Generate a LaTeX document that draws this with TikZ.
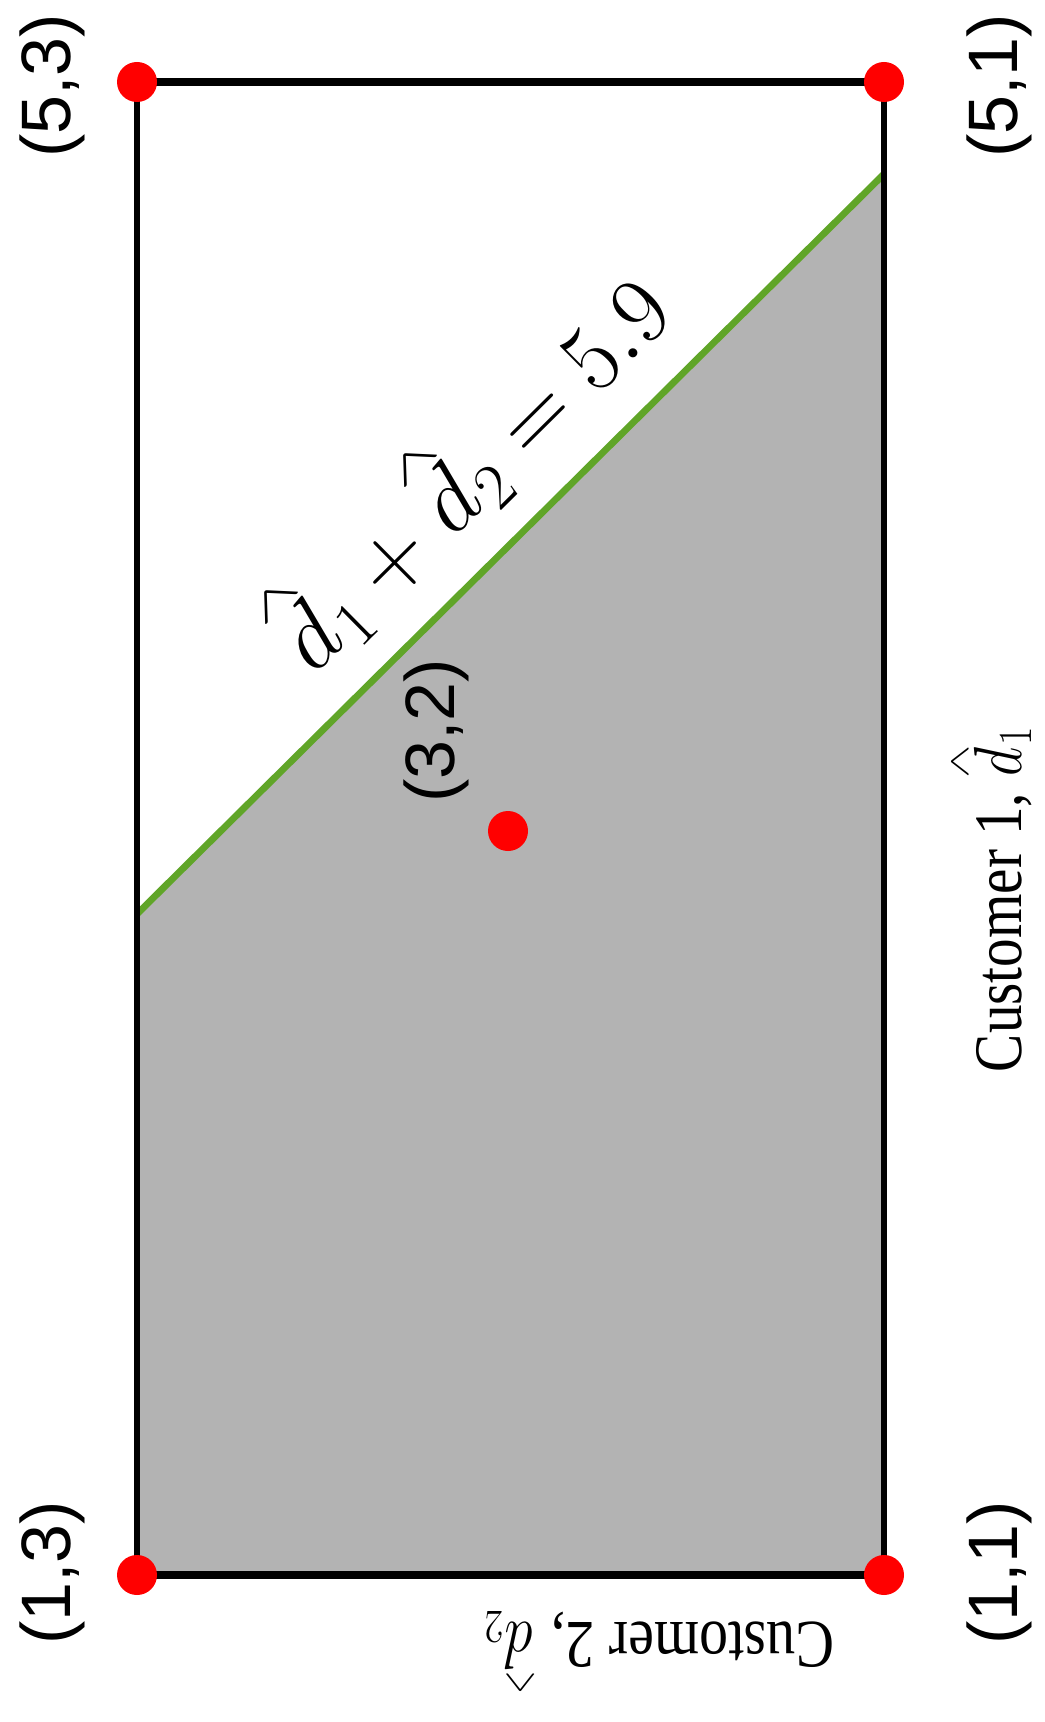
\RequirePackage{fix-cm}
\documentclass[tikz,border=0pt]{standalone}
\usepackage{amsmath}
\usepackage[no-math]{fontspec}
\newfontfamily\sansf{Liberation Sans}
\newfontfamily\seriff{Liberation Serif}
\newcommand\hatd[1]{\overset{\raisebox{-1.45ex}{\scalebox{1.25}[0.6]{$\scriptstyle\wedge$}}}{d}_{#1}}
\definecolor{plotgray}{RGB}{179,179,179}
\definecolor{linegreen}{RGB}{96,165,40}
\definecolor{dotred}{RGB}{255,0,0}
\tikzset{
  reddot/.style={circle, fill=dotred, inner sep=0pt, minimum size=20pt},
  coordlab/.style={font=\sansf\fontsize{35}{42}\selectfont, inner sep=0pt, rotate=90},
  axislab/.style={font=\seriff\fontsize{34}{40}\selectfont, inner sep=0pt, anchor=base},
  frameh/.style={line width=4pt},
  framev/.style={line width=2.8pt}
}
\begin{document}
\begin{tikzpicture}[x=0.5pt,y=-0.5pt]
\useasboundingbox (0,0) rectangle (1044,1722);
\fill[white] (0,0) rectangle (1044,1722);
\coordinate (TL) at (137,82);
\coordinate (TR) at (884,82);
\coordinate (BL) at (137,1575);
\coordinate (BR) at (884,1575);
\coordinate (GL) at (137,914);
\coordinate (GR) at (884,174);
\fill[plotgray] (GL) -- (GR) -- (BR) -- (BL) -- cycle;
\draw[linegreen, line width=3.4pt] (GL) -- (GR);
\draw[framev] ([yshift=1pt]TL) -- ([yshift=-1pt]BL);
\draw[framev] ([yshift=1pt]TR) -- ([yshift=-1pt]BR);
\draw[frameh] (TL) -- (TR);
\draw[frameh] (BL) -- (BR);
\node[reddot] (p53) at (TL) {};
\node[reddot] (p51) at (TR) {};
\node[reddot] (p13) at (BL) {};
\node[reddot] (p11) at (BR) {};
\node[reddot] (p32) at (508,831) {};
\node[coordlab] (l53) at (52,86) {(5,3)};
\node[coordlab] (l51) at (999,86) {(5,1)};
\node[coordlab] (l13) at (52,1573) {(1,3)};
\node[coordlab] (l11) at (999,1573) {(1,1)};
\node[coordlab] (l32) at (436,731) {(3,2)};
\node[rotate=44.7, inner sep=0pt, font=\fontsize{47}{56}\selectfont] (eq) at (452,455) {$\hatd{1}+\hatd{2}=5.9$};
\node[axislab, rotate=90, xscale=0.84] (xl) at (1021,899) {Customer 1, $\hatd{1}$};
\node[axislab, rotate=180, xscale=0.85] (yl) at (659,1622) {Customer 2, $\hatd{2}$};
\end{tikzpicture}
\end{document}
